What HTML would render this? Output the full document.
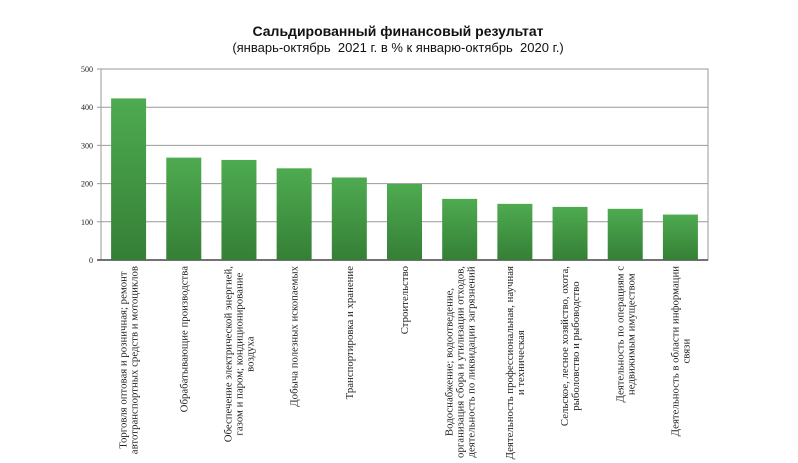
<!DOCTYPE html>
<html><head><meta charset="utf-8"><style>
body{margin:0;background:#fff;}
svg{display:block;font-family:"Liberation Sans",sans-serif;}
</style></head><body>
<svg id="c" width="798" height="463">
<defs><linearGradient id="g" x1="0" y1="0" x2="0" y2="1"><stop offset="0" stop-color="#4eab50"/><stop offset="1" stop-color="#357f36"/></linearGradient></defs>
<text x="398" y="36" text-anchor="middle" font-size="14" font-weight="bold" fill="#111">Сальдированный финансовый результат</text>
<text x="398" y="52" text-anchor="middle" font-size="13" fill="#111" xml:space="preserve">(январь-октябрь  2021 г. в % к январю-октябрь  2020 г.)</text>
<g id="grid"></g><g id="bars"></g><g id="labels"></g>
</svg>
<script>
const categories=[
["Торговля оптовая и розничная; ремонт","автотранспортных средств и мотоциклов"],
["Обрабатывающие производства"],
["Обеспечение электрической энергией,","газом и паром; кондиционирование","воздуха"],
["Добыча полезных ископаемых"],
["Транспортировка и хранение"],
["Строительство"],
["Водоснабжение; водоотведение,","организация сбора и утилизации отходов,","деятельность по ликвидации загрязнений"],
["Деятельность профессиональная, научная","и техническая"],
["Сельское, лесное хозяйство, охота,","рыболовство и рыбоводство"],
["Деятельность по операциям с","недвижимым имуществом"],
["Деятельность в области информации","связи"]];
const values=[423,268,262,240,216,199,160,147,139,134,119];
const ticks=[0,100,200,300,400,500];
const NS="http://www.w3.org/2000/svg";
const L=101,R=708,T=69,B=260,max=500;
const y=v=>B-(v/max)*(B-T);
const bw=(R-L)/values.length;
const x=i=>L+bw*i+bw/2;
function mk(tag,attrs,parent){const e=document.createElementNS(NS,tag);for(const k in attrs)e.setAttribute(k,attrs[k]);parent.appendChild(e);return e;}
const grid=document.getElementById('grid'),bars=document.getElementById('bars'),labels=document.getElementById('labels');
const fr=mk('rect',{x:L,y:T,width:R-L,height:B-T,fill:'none',stroke:'#999','stroke-width':1},grid);


ticks.forEach(t=>{
 const ln=mk('line',{x1:L-4,x2:R,y1:y(t),y2:y(t),stroke:t===0?'#444':'#999','stroke-width':t===0?1.5:1},grid);
 
 
 const tx=mk('text',{x:L-8,y:y(t)+3,'text-anchor':'end','font-size':8,'font-family':'Liberation Serif, serif',fill:'#222'},grid);
 tx.textContent=t;
 
 
});
values.forEach((v,i)=>{
 const r=mk('rect',{x:x(i)-17.5,y:y(v),width:35,height:B-y(v),fill:'url(#g)'},bars);
 
 
});
categories.forEach((lines,i)=>{
 const g=mk('g',{},labels);
 
 
 const ts=lines.map((s,j)=>{const t=mk('text',{'font-size':10.8,'font-family':'Liberation Serif, serif',fill:'#222','text-anchor':'middle'},g);t.textContent=s;return t;});
 const maxLen=Math.max(...ts.map(t=>t.getComputedTextLength()));
 const n=lines.length;
 ts.forEach((t,j)=>{
  const bx=x(i)+3.6+(j-(n-1)/2)*11, by=266+maxLen/2;
  t.setAttribute('transform',`translate(${bx},${by}) rotate(-90)`);
 });
});
</script>
</body></html>
